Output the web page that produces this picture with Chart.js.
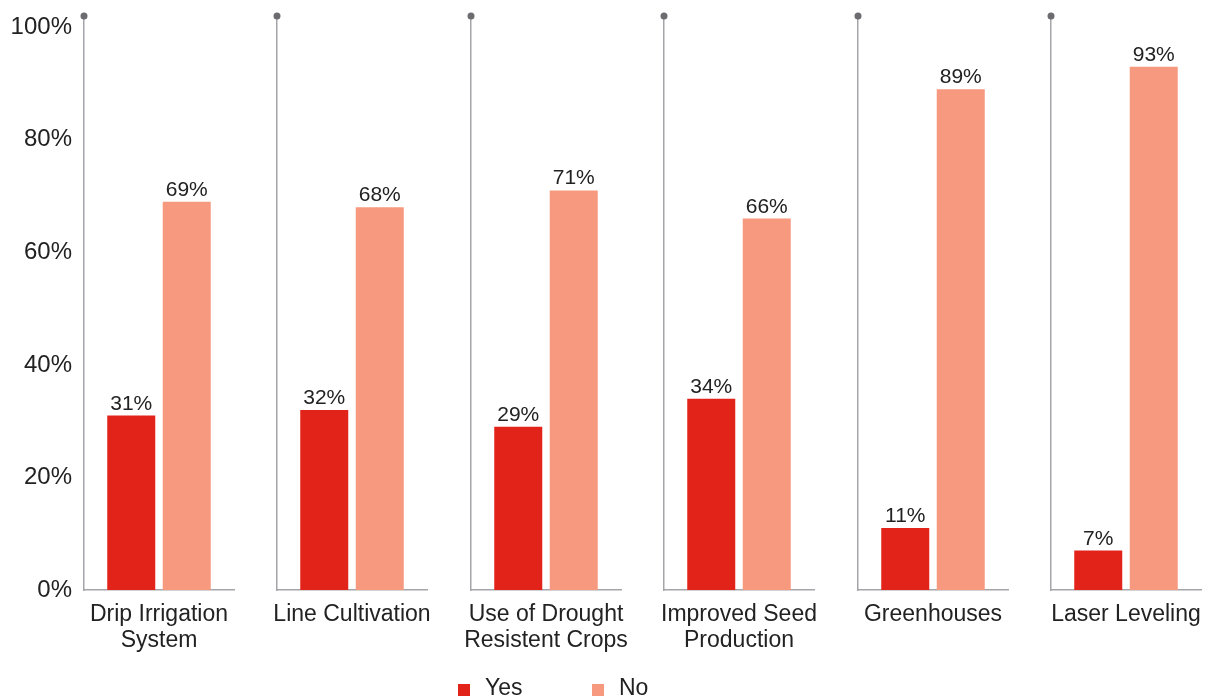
<!DOCTYPE html>
<html>
<head>
<meta charset="utf-8">
<script src="https://cdn.jsdelivr.net/npm/chart.js@4/dist/chart.umd.min.js"></script>
<style>
  html, body { margin: 0; padding: 0; background: #ffffff; overflow: hidden; }
  #wrap { position: relative; width: 1208px; height: 700px; overflow: hidden; }
  #wrap canvas { position: absolute; top: 0; }
  .legend { position: absolute; top: 672px; font: 23px "Liberation Sans", Arial, Helvetica, sans-serif; color: #222; line-height: 30px; }
  .legend span.sw { position: absolute; top: 12px; width: 12px; height: 12px; }
  .legend span.tx { position: absolute; top: 0; white-space: nowrap; }
</style>
</head>
<body>
<div id="wrap"></div>
<script>
// Adoption of water-saving farming practices (share of respondents)
const categories = [
  ['Drip Irrigation', 'System'],
  ['Line Cultivation'],
  ['Use of Drought', 'Resistent Crops'],
  ['Improved Seed', 'Production'],
  ['Greenhouses'],
  ['Laser Leveling']
];
const seriesNames = ['Yes', 'No'];
const yesValues = [31, 32, 29, 34, 11, 7];
const noValues = [69, 68, 71, 66, 89, 93];
const yTicks = [0, 20, 40, 60, 80, 100];
const seriesColors = ['#e2231a', '#f6997f'];

const FONT = '"Liberation Sans", Arial, Helvetica, sans-serif';
const TEXT = '#222222';
const AXIS = '#a5a5a9';
const DOT = '#6b6b70';

const PANEL_STEP = 193.4;   // distance between small-multiple panels
const CANVAS_W = 241;
const CANVAS_H = 700;
const AXIS_W = 84;          // space reserved left of each plot

// Dot cap on top of each panel's vertical axis
const axisDot = {
  id: 'axisDot',
  afterDraw(chart) {
    const { ctx, chartArea } = chart;
    ctx.save();
    ctx.fillStyle = DOT;
    ctx.beginPath();
    ctx.arc(chartArea.left, chartArea.top, 3.5, 0, Math.PI * 2);
    ctx.fill();
    ctx.restore();
  }
};

// Percentage labels above each bar
const valueLabels = {
  id: 'valueLabels',
  afterDatasetsDraw(chart) {
    const { ctx } = chart;
    ctx.save();
    ctx.font = '21px ' + FONT;
    ctx.fillStyle = TEXT;
    ctx.textAlign = 'center';
    ctx.textBaseline = 'alphabetic';
    chart.data.datasets.forEach((ds, di) => {
      chart.getDatasetMeta(di).data.forEach((bar, j) => {
        ctx.fillText(ds.data[j] + '%', bar.x, bar.y - 6);
      });
    });
    ctx.restore();
  }
};

const wrap = document.getElementById('wrap');

categories.forEach((cat, i) => {
  const canvas = document.createElement('canvas');
  canvas.width = CANVAS_W;
  canvas.height = CANVAS_H;
  canvas.style.left = Math.round(PANEL_STEP * i) + 'px';
  canvas.style.width = CANVAS_W + 'px';
  canvas.style.height = CANVAS_H + 'px';
  wrap.appendChild(canvas);

  new Chart(canvas, {
    type: 'bar',
    data: {
      labels: [cat],
      datasets: [
        { label: seriesNames[0], data: [yesValues[i]], backgroundColor: seriesColors[0] },
        { label: seriesNames[1], data: [noValues[i]], backgroundColor: seriesColors[1] }
      ]
    },
    options: {
      responsive: false,
      animation: false,
      devicePixelRatio: 1,
      layout: { padding: { top: 16, right: 7, bottom: 40, left: 0 } },
      datasets: { bar: { categoryPercentage: 0.74, barPercentage: 0.865 } },
      plugins: { legend: { display: false }, tooltip: { enabled: false } },
      scales: {
        x: {
          grid: { display: false, drawTicks: false },
          border: { display: true, color: AXIS, width: 1.5 },
          ticks: { color: TEXT, font: { family: FONT, size: 23, lineHeight: 1.13 }, padding: 12, maxRotation: 0, autoSkip: false },
          afterFit(scale) {
            scale.height = 70;
            scale.paddingLeft = 0;
            scale.paddingRight = 0;
          }
        },
        y: {
          min: 0,
          max: 102,
          grid: { display: false, drawTicks: false },
          border: { display: true, color: AXIS, width: 1.5 },
          ticks: {
            display: i === 0,
            padding: 12,
            color: TEXT,
            font: { family: FONT, size: 24 },
            callback: v => v + '%'
          },
          afterBuildTicks(scale) { scale.ticks = yTicks.map(v => ({ value: v })); },
          afterFit(scale) {
            scale.width = AXIS_W;
            scale.paddingTop = 0;
            scale.paddingBottom = 0;
          }
        }
      }
    },
    plugins: [axisDot, valueLabels]
  });
});

// Series legend below the panels
const legendItems = [
  { name: seriesNames[0], color: seriesColors[0], x: 458 },
  { name: seriesNames[1], color: seriesColors[1], x: 592 }
];
legendItems.forEach(item => {
  const box = document.createElement('div');
  box.className = 'legend';
  box.style.left = item.x + 'px';
  const sw = document.createElement('span');
  sw.className = 'sw';
  sw.style.left = '0px';
  sw.style.background = item.color;
  const tx = document.createElement('span');
  tx.className = 'tx';
  tx.style.left = '27px';
  tx.textContent = item.name;
  box.appendChild(sw);
  box.appendChild(tx);
  wrap.appendChild(box);
});
</script>
</body>
</html>
